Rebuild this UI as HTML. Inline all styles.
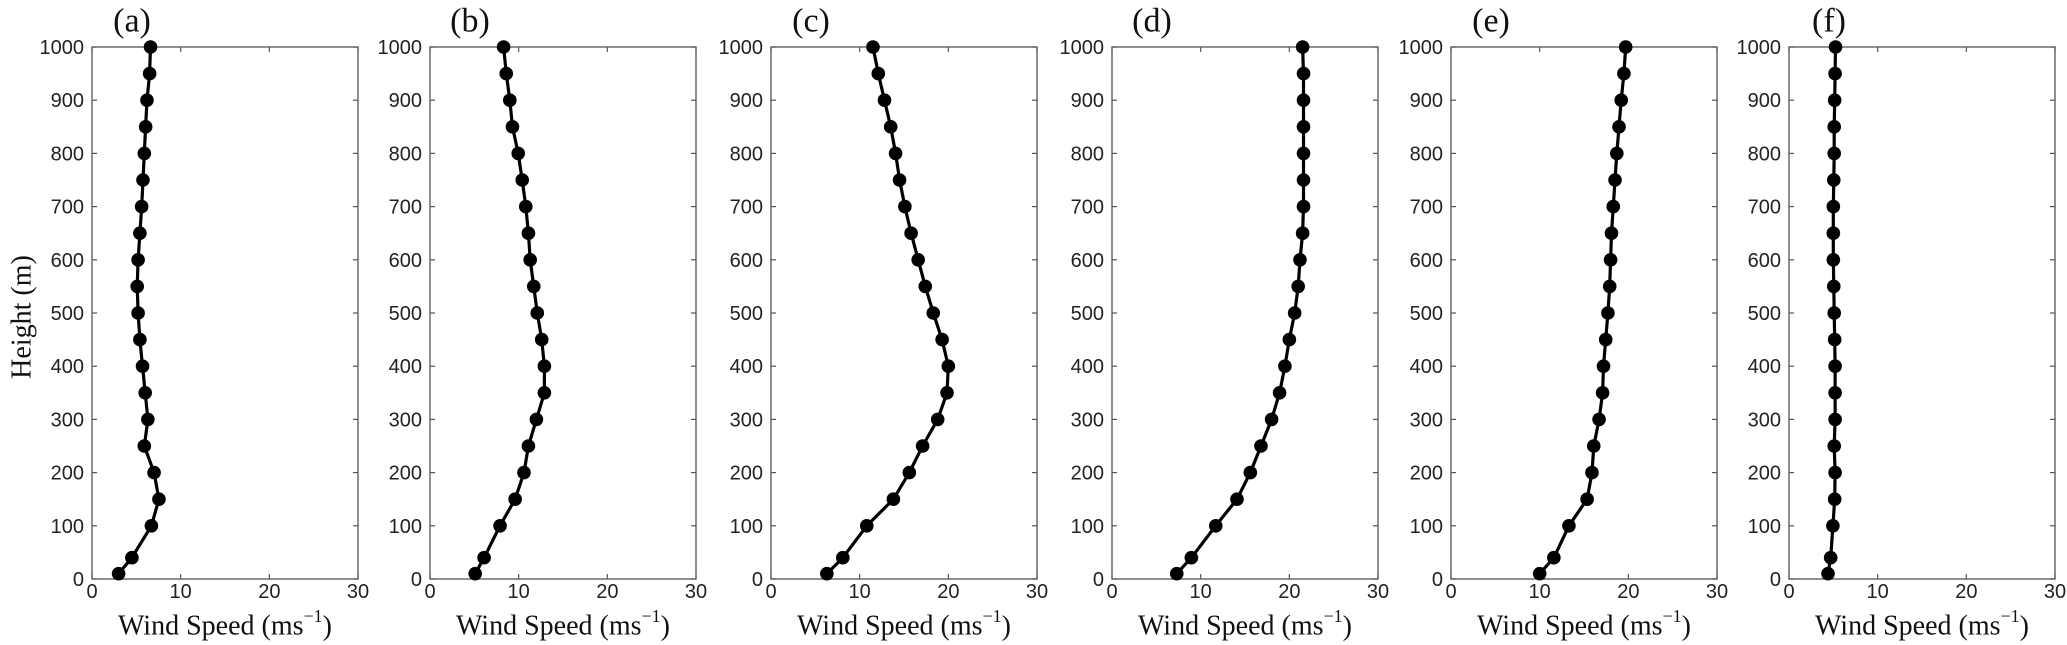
<!DOCTYPE html>
<html><head><meta charset="utf-8"><style>
html,body{margin:0;padding:0;background:#fff;}
svg{display:block;}
.tick{font-family:"Liberation Sans",Arial,sans-serif;font-size:20px;fill:#222;}
.lab{font-family:"Liberation Serif","Times New Roman",serif;font-size:28px;fill:#111;}
.ttl{font-family:"Liberation Serif","Times New Roman",serif;font-size:34px;fill:#111;}
</style></head><body>
<svg id="chart" width="2067" height="645" viewBox="0 0 2067 645" xmlns="http://www.w3.org/2000/svg">
<text class="lab" x="0" y="0" transform="translate(22,317) rotate(-90)" text-anchor="middle" dominant-baseline="central">Height (m)</text>
</svg>
<script>
const heights = [10,40,100,150,200,250,300,350,400,450,500,550,600,650,700,750,800,850,900,950,1000];
const speedA = [3.0,4.5,6.7,7.55,7.0,5.9,6.3,6.0,5.7,5.4,5.2,5.1,5.2,5.4,5.6,5.75,5.9,6.05,6.2,6.5,6.6];
const speedB = [5.1,6.1,7.9,9.6,10.6,11.1,12.0,12.9,12.9,12.6,12.1,11.7,11.3,11.1,10.8,10.4,9.95,9.3,9.0,8.6,8.3];
const speedC = [6.3,8.1,10.8,13.8,15.6,17.1,18.8,19.85,20.0,19.3,18.3,17.4,16.6,15.8,15.1,14.5,14.05,13.5,12.8,12.1,11.5];
const speedD = [7.3,8.95,11.7,14.1,15.6,16.8,18.0,18.9,19.5,20.0,20.6,21.0,21.2,21.5,21.6,21.6,21.6,21.6,21.6,21.6,21.5];
const speedE = [10.0,11.6,13.3,15.35,15.9,16.1,16.7,17.1,17.2,17.45,17.7,17.9,18.0,18.1,18.3,18.5,18.7,18.95,19.2,19.5,19.7];
const speedF = [4.4,4.7,4.95,5.15,5.2,5.1,5.2,5.2,5.2,5.15,5.1,5.05,5.0,5.0,5.0,5.05,5.1,5.1,5.15,5.2,5.25];
const panelTitles = ["(a)","(b)","(c)","(d)","(e)","(f)"];
const xTicks = [0,10,20,30];
const yTicks = [0,100,200,300,400,500,600,700,800,900,1000];
const series = [speedA,speedB,speedC,speedD,speedE,speedF];

const NS="http://www.w3.org/2000/svg";
const svg=document.getElementById('chart');
const lefts=[92,430,771,1112,1451,1789];
const W=266, TOP=47, BOT=579;
function mk(tag,attrs,parent){const e=document.createElementNS(NS,tag);for(const k in attrs)e.setAttribute(k,attrs[k]);(parent||svg).appendChild(e);return e;}
series.forEach((vals,p)=>{
  const L=lefts[p];
  const xs=v=>L+v/30*W;
  const ys=h=>BOT-h/1000*(BOT-TOP);
  const g=mk('g',{});
  
  
  const t=mk('text',{x:L+40,y:21,'text-anchor':'middle','dominant-baseline':'central','class':'ttl'},g);
  t.textContent=panelTitles[p];
  
  
  const fr=mk('rect',{x:L,y:TOP,width:W,height:BOT-TOP,fill:'none',stroke:'#555','stroke-width':1.3},g);
  
  
  xTicks.forEach(v=>{
    const x=xs(v);
    mk('line',{x1:x,y1:BOT,x2:x,y2:BOT-5,stroke:'#555','stroke-width':1.2},g);
    mk('line',{x1:x,y1:TOP,x2:x,y2:TOP+5,stroke:'#555','stroke-width':1.2},g);
    const tl=mk('text',{x:x,y:592,'text-anchor':'middle','dominant-baseline':'central','class':'tick'},g);
    tl.textContent=v;
    
    
  });
  yTicks.forEach(v=>{
    const y=ys(v);
    mk('line',{x1:L,y1:y,x2:L+5,y2:y,stroke:'#555','stroke-width':1.2},g);
    mk('line',{x1:L+W,y1:y,x2:L+W-5,y2:y,stroke:'#555','stroke-width':1.2},g);
    const tl=mk('text',{x:L-8,y:y+1,'text-anchor':'end','dominant-baseline':'central','class':'tick'},g);
    tl.textContent=v;
    
    
  });
  const xl=mk('text',{x:L+W/2,y:626,'text-anchor':'middle','dominant-baseline':'central','class':'lab'},g);
  xl.innerHTML='Wind Speed (ms<tspan dy="-10" font-size="18">−1</tspan><tspan dy="10">)</tspan>';
  
  
  const pts=vals.map((v,i)=>xs(v).toFixed(1)+','+ys(heights[i]).toFixed(1)).join(' ');
  const pl=mk('polyline',{points:pts,fill:'none',stroke:'#000','stroke-width':3.2,'stroke-linejoin':'round'},g);
  
  
  vals.forEach((v,i)=>{
    const c=mk('circle',{cx:xs(v),cy:ys(heights[i]),r:6.8,fill:'#000'},g);
    
    
  });
});
</script>
</body></html>
